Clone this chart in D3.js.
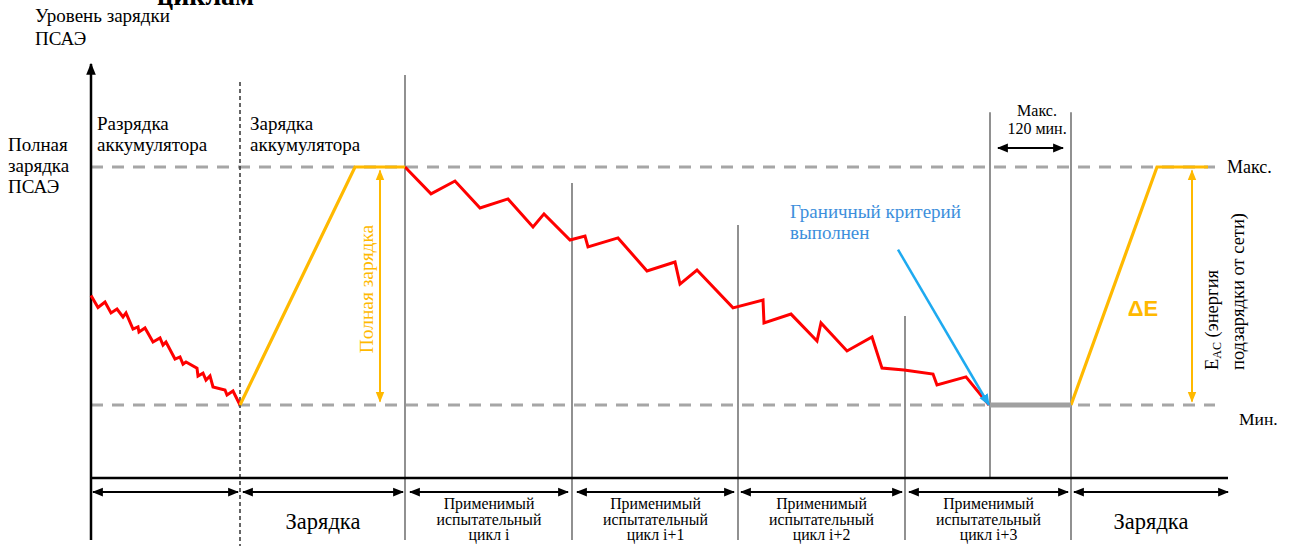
<!DOCTYPE html>
<html><head><meta charset="utf-8">
<script src="https://cdn.jsdelivr.net/npm/d3@7"></script>
<style>body{margin:0;background:#fff}</style>
</head><body>
<script>
// time units (t) and charge level (0 = Мин., 100 = Макс.)
const dischargeT = [0,7,14,20,26,32,35,42,47,48,54,62,69,72,75,84,89,92,95,106,107,112,115,119,122,134,136,142,149];
const dischargeL = [46,41,43.3,38.7,40.3,37,38.7,31.9,32.8,30.7,32.4,26.5,28.2,25.2,26.5,19.3,20.2,17.2,18.1,15.5,12.2,13.4,10.5,12.2,7.6,6.3,4.2,5.9,0];
const cycleT = [314,340,364,389,417,442,453,479,494,497,527,556,584,589,606,642,672,673,700,726,730,756,781,791,813,842,846,875,898];
const cycleL = [100,88.7,94.1,82.8,86.6,74.8,80.3,69.3,71,66.4,70.2,56.3,60.1,50.8,56.7,40.8,44.1,34.5,38.2,26.9,34.5,22.7,28.6,15.5,14.7,13,8.4,11.8,0];
const charge1T = [149,264,314], charge1L = [0,100,100];
const charge2T = [980,1066,1117], charge2L = [0,100,100];
const restT = [899,980], restL = [0,0];
const criterionT = [807,898], criterionL = [65.3,0];
const dividerT = [314,481,647,814,899,980];
const dividerTop = [138.7,93.3,75.6,37.4,123,123];
const dividerBottom = [-56.7,-56.7,-56.7,-56.7,-30.7,-56.7];
const phaseStart = [2,152,319,486,650,818,983];
const phaseEnd = [147,312,477,643,811,977,1137];
const phaseLabels = [[""],["Зарядка"],["Применимый","испытательный","цикл i"],["Применимый","испытательный","цикл i+1"],["Применимый","испытательный","цикл i+2"],["Применимый","испытательный","цикл i+3"],["Зарядка"]];

const SERIF = "Liberation Serif";
const W=1290,H=546;
const x = d3.scaleLinear().domain([0,1140]).range([91,1231]);
const y = d3.scaleLinear().domain([0,100]).range([405,167]);
const svg = d3.select("body").append("svg").attr("width",W).attr("height",H);
const defs = svg.append("defs");
function marker(id,color,size){
  defs.append("marker").attr("id",id).attr("viewBox","0 0 10 10").attr("refX",9).attr("refY",5)
    .attr("markerWidth",size).attr("markerHeight",size).attr("markerUnits","userSpaceOnUse").attr("orient","auto-start-reverse")
    .append("path").attr("d","M0,1 L10,5 L0,9 Z").attr("fill",color);
}
marker("ab","#000",11); marker("ao","#FFB900",11); marker("abl","#1EAAF0",12); marker("ay","#000",12);
const line = d3.line().x(d=>x(d[0])).y(d=>y(d[1]));
const zip=(a,b)=>a.map((v,i)=>[v,b[i]]);

// dashed Max/Min
[100,0].forEach(l=>svg.append("line").attr("x1",x(0)).attr("x2",x(1124)).attr("y1",y(l)).attr("y2",y(l))
  .attr("stroke","#A6A6A6").attr("stroke-width",3).attr("stroke-dasharray","12 9"));

// dividers
dividerT.forEach((t,i)=>svg.append("line").attr("x1",x(t)).attr("x2",x(t)).attr("y1",y(dividerTop[i])).attr("y2",y(dividerBottom[i]))
  .attr("stroke","#555").attr("stroke-width",1.3));
// dotted divider
svg.append("line").attr("x1",x(149)).attr("x2",x(149)).attr("y1",y(135.7)).attr("y2",y(-59.2))
  .attr("stroke","#333").attr("stroke-width",1.5).attr("stroke-dasharray","4 3");

// axes
svg.append("line").attr("x1",x(0)).attr("x2",x(0)).attr("y1",y(-56.7)).attr("y2",64).attr("stroke","#000").attr("stroke-width",2.5).attr("marker-end","url(#ay)");
svg.append("line").attr("x1",x(0)).attr("x2",x(1137)).attr("y1",y(-30.7)).attr("y2",y(-30.7)).attr("stroke","#000").attr("stroke-width",2.5);

// series
svg.append("path").attr("d",line(zip(dischargeT,dischargeL))).attr("fill","none").attr("stroke","#FF0000").attr("stroke-width",3);
svg.append("path").attr("d",line(zip(cycleT,cycleL))).attr("fill","none").attr("stroke","#FF0000").attr("stroke-width",3);
svg.append("path").attr("d",line(zip(charge1T,charge1L))).attr("fill","none").attr("stroke","#FFB900").attr("stroke-width",3.2);
svg.append("path").attr("d",line(zip(charge2T,charge2L))).attr("fill","none").attr("stroke","#FFB900").attr("stroke-width",3.2);
svg.append("path").attr("d",line(zip(restT,restL))).attr("fill","none").attr("stroke","#A0A0A0").attr("stroke-width",5);
svg.append("path").attr("d",line(zip(criterionT,criterionL))).attr("fill","none").attr("stroke","#1EAAF0").attr("stroke-width",2.5).attr("marker-end","url(#abl)");

// orange double arrows
[289,1101].forEach(t=>svg.append("line").attr("x1",x(t)).attr("x2",x(t)).attr("y1",y(98.5)).attr("y2",y(1.5))
  .attr("stroke","#FFB900").attr("stroke-width",2).attr("marker-start","url(#ao)").attr("marker-end","url(#ao)"));

// phase arrows + labels
const axY = y(-30.7);
phaseStart.forEach((s,i)=>{
  svg.append("line").attr("x1",x(s)).attr("x2",x(phaseEnd[i])).attr("y1",axY+14).attr("y2",axY+14)
    .attr("stroke","#000").attr("stroke-width",2).attr("marker-start","url(#ab)").attr("marker-end","url(#ab)");
  const cx = x((s+phaseEnd[i])/2);
  const lab = phaseLabels[i];
  if(lab.length===1){
    if(lab[0]) svg.append("text").attr("x",cx).attr("y",axY+51).attr("text-anchor","middle").attr("font-family",SERIF).attr("font-size",22.5).text(lab[0]);
  } else {
    lab.forEach((l,j)=>svg.append("text").attr("x",cx).attr("y",axY+31+j*15.5).attr("text-anchor","middle").attr("font-family",SERIF).attr("font-size",15.8).text(l));
  }
});

// 120 min arrow
svg.append("line").attr("x1",x(907)).attr("x2",x(972)).attr("y1",148).attr("y2",148)
  .attr("stroke","#000").attr("stroke-width",2).attr("marker-start","url(#ab)").attr("marker-end","url(#ab)");

// texts
const T=(tx,ty,s,opt={})=>{const e=svg.append("text").attr("x",tx).attr("y",ty).attr("font-size",opt.size||19).attr("fill",opt.fill||"#000")
  .attr("font-family",opt.family||SERIF).text(s);
  if(opt.anchor)e.attr("text-anchor",opt.anchor); if(opt.weight)e.attr("font-weight",opt.weight); return e;};
T(1037,116,"Макс.",{size:16,anchor:"middle"}); T(1037,134,"120 мин.",{size:16,anchor:"middle"});
T(157,5,"циклам",{size:28,weight:"bold"});
T(35,22,"Уровень зарядки"); T(35,45,"ПСАЭ");
T(8,151,"Полная"); T(8,172,"зарядка"); T(8,193,"ПСАЭ");
T(97,130,"Разрядка"); T(97,151,"аккумулятора");
T(250,130,"Зарядка"); T(250,151,"аккумулятора");
T(790,218,"Граничный критерий",{fill:"#3D8FDC"}); T(790,239,"выполнен",{fill:"#3D8FDC"});
T(1227,173,"Макс.",{size:18}); T(1239,425,"Мин.",{size:17.5});
T(1143,316,"ΔE",{size:22,weight:"bold",fill:"#FFB900",anchor:"middle",family:"Liberation Sans"});
svg.append("text").attr("transform","translate(373,289) rotate(-90)").attr("text-anchor","middle").attr("font-family",SERIF).attr("font-size",19.4).attr("fill","#FFB900").text("Полная зарядка");
const e1 = svg.append("text").attr("transform","translate(1218,370) rotate(-90)").attr("font-family",SERIF).attr("font-size",18.5);
e1.append("tspan").text("E"); e1.append("tspan").attr("font-size",12).attr("dy",3).text("AC"); e1.append("tspan").attr("dy",-3).text(" (энергия");
svg.append("text").attr("transform","translate(1244,370) rotate(-90)").attr("font-family",SERIF).attr("font-size",19)
  .attr("textLength",157).attr("lengthAdjust","spacingAndGlyphs").text("подзарядки от сети)");
</script>
</body></html>
